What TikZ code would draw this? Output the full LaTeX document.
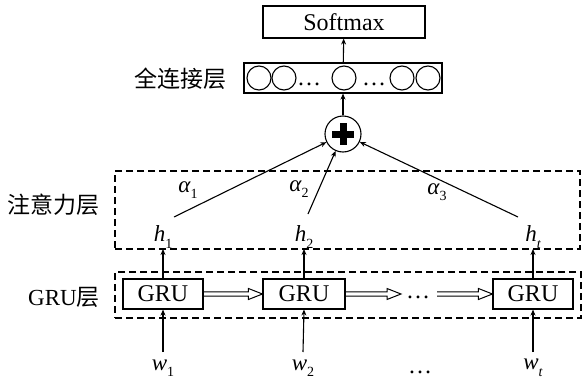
\documentclass[tikz,border=0pt]{standalone}
\usepackage{fontspec}
\setmainfont{Liberation Serif}
\newfontfamily\cjk{Noto Sans CJK SC}
\usetikzlibrary{arrows.meta,calc}
\newcommand\mysub[1]{\raisebox{-0.28em}{\fontsize{14}{14}\selectfont\upshape #1}}
\newcommand\hollowarr[2]{%
  \draw[line width=1pt,line join=miter]
    ($(#1)+(0,-2.2)$) -- ($(#2)+(-14,-2.2)$) -- ($(#2)+(-14,-5.5)$) -- (#2)
    -- ($(#2)+(-14,5.5)$) -- ($(#2)+(-14,2.2)$) -- ($(#1)+(0,2.2)$);}
\begin{document}
\begin{tikzpicture}[x=1pt,y=-1pt,
  box/.style={draw,line width=1.1pt,inner sep=0pt},
  dbox/.style={draw,line width=1.3pt,dash pattern=on 7pt off 4pt},
  arr/.style={line width=1.1pt,-{Stealth[length=6pt,width=5pt]}},
  txt/.style={font=\fontsize{24}{24}\selectfont,inner sep=0pt},
  itx/.style={font=\fontsize{23}{23}\selectfont\itshape,inner sep=0pt},
  zh/.style={font=\fontsize{23}{23}\selectfont\cjk,inner sep=0pt},
  neuron/.style={draw,circle,line width=1.1pt,minimum size=24pt,inner sep=0pt}]
\useasboundingbox (0,0) rectangle (582,383);

% dashed layer boxes
\node[dbox,minimum width=465pt,minimum height=78pt,inner sep=0pt] (attbox) at (347.5,210) {};
\node[dbox,minimum width=466pt,minimum height=46pt,inner sep=0pt] (grubox) at (348,295) {};

% layer labels
\node[zh] (lfc) at (180,79) {全连接层};
\node[zh] (latt) at (54,205) {注意力层};
\node[inner sep=0pt,font=\fontsize{23}{23}\selectfont] (lgru) at (64,297) {GRU{\cjk 层}};

% softmax and fully connected
\node[box,txt,minimum width=162pt,minimum height=32pt] (soft) at (344,22) {Softmax};
\node[box,minimum width=198pt,minimum height=30pt] (fc) at (343,78) {};
\node[neuron] (n1) at (259,78) {};
\node[neuron] (n2) at (284,78) {};
\node[neuron] (n3) at (344,78) {};
\node[neuron] (n4) at (402,78) {};
\node[neuron] (n5) at (428,78) {};
\node[txt,anchor=base] (fd1) at (309,85) {…};
\node[txt,anchor=base] (fd2) at (374,85) {…};

% sum node
\node[draw,circle,line width=1.1pt,minimum size=36pt,inner sep=0pt] (plus) at (343,134) {};
\draw[line width=7pt] ($(plus.center)+(-11,0)$) -- ($(plus.center)+(11,0)$);
\draw[line width=7pt] ($(plus.center)+(0,-11)$) -- ($(plus.center)+(0,11)$);

% GRU cells
\node[box,txt,minimum width=80pt,minimum height=30pt] (g1) at (163,294) {GRU};
\node[box,txt,minimum width=82pt,minimum height=30pt] (g2) at (304,294) {GRU};
\node[box,txt,minimum width=80pt,minimum height=30pt] (g3) at (533,294) {GRU};
\node[txt,anchor=base] (gd) at (418,298) {…};
\coordinate (d1) at (401,294);
\coordinate (d2) at (437,294);

% hidden states
\node[itx] (h1) at (163,237) {h\mysub{1}};
\node[itx] (h2) at (304,237) {h\mysub{2}};
\node[itx] (ht) at (533,237) {h\mysub{\itshape t}};
\coordinate (h1u) at (174,217);
\coordinate (h2u) at (308,214);
\coordinate (htu) at (518,217);
\coordinate (h1d) at (163,249);
\coordinate (h2d) at (304,249);
\coordinate (htd) at (533,249);

% inputs
\node[itx] (w1) at (163,368) {w\mysub{1}};
\node[itx] (w2) at (303,368) {w\mysub{2}};
\node[txt,anchor=base] (wd) at (420,373) {…};
\node[itx] (wt) at (533,368) {w\mysub{\itshape t}};

% attention weights
\node[itx] (a1) at (188,190) {α\mysub{1}};
\node[itx] (a2) at (299,189) {α\mysub{2}};
\node[itx] (a3) at (437,192) {α\mysub{3}};

% connectors
\draw[arr] (w1) ++(0,-16) -- (g1.south);
\draw[arr] (w2) ++(0,-16) -- (g2.south);
\draw[arr] (wt) ++(0,-16) -- (g3.south);
\draw[arr] (g1.north) -- (h1d);
\draw[arr] (g2.north) -- (h2d);
\draw[arr] (g3.north) -- (htd);
\draw[arr] (h1u) -- (plus);
\draw[arr] (h2u) -- (plus);
\draw[arr] (htu) -- (plus);
\draw[arr] (plus) -- (fc);
\draw[arr] (fc) -- (soft);

\hollowarr{g1.east}{g2.west}
\hollowarr{g2.east}{d1}
\hollowarr{d2}{g3.west}
\end{tikzpicture}
\end{document}
